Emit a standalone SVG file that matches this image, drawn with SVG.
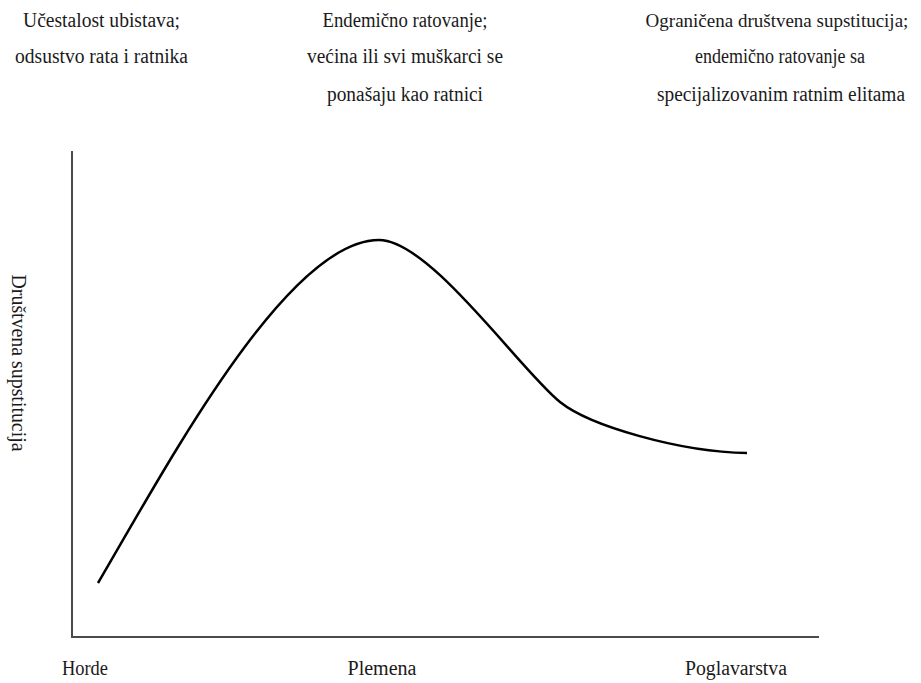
<svg xmlns="http://www.w3.org/2000/svg" width="921" height="683" viewBox="0 0 921 683">
  <style>
    .lbl { font-family: "Liberation Serif", "Times New Roman", serif; font-size: 20.5px; fill: #1a1a1a; text-anchor: middle; }
    .lbl.long { font-size: 19px; }
    .axis { stroke: #4a4a4a; stroke-width: 2; fill: none; }
    .curve { stroke: #000; stroke-width: 2.5; fill: none; stroke-linecap: butt; }
  </style>
  <rect width="921" height="683" fill="#fff"/>

  <!-- descriptions above the chart -->
  <g id="desc-horde">
    <text class="lbl" x="101.5" y="27" textLength="157" lengthAdjust="spacingAndGlyphs">Učestalost ubistava;</text>
    <text class="lbl" x="101.5" y="63" textLength="173" lengthAdjust="spacingAndGlyphs">odsustvo rata i ratnika</text>
  </g>
  <g id="desc-plemena">
    <text class="lbl" x="405" y="27" textLength="165" lengthAdjust="spacingAndGlyphs">Endemično ratovanje;</text>
    <text class="lbl" x="405" y="63" textLength="196" lengthAdjust="spacingAndGlyphs">većina ili svi muškarci se</text>
    <text class="lbl" x="405" y="101" textLength="156" lengthAdjust="spacingAndGlyphs">ponašaju kao ratnici</text>
  </g>
  <g id="desc-poglavarstva">
    <text class="lbl long" x="777" y="27">Ograničena društvena supstitucija;</text>
    <text class="lbl" x="780" y="63" textLength="170" lengthAdjust="spacingAndGlyphs">endemično ratovanje sa</text>
    <text class="lbl" x="781" y="101" textLength="248" lengthAdjust="spacingAndGlyphs">specijalizovanim ratnim elitama</text>
  </g>

  <!-- axes -->
  <g id="axes">
    <line class="axis" x1="72" y1="151" x2="72" y2="637"/>
    <line class="axis" x1="71" y1="637" x2="819" y2="637"/>
  </g>

  <!-- y-axis title -->
  <g id="y-title">
    <text class="lbl" transform="translate(12,363) rotate(90)" x="0" y="0" textLength="177" lengthAdjust="spacingAndGlyphs">Društvena supstitucija</text>
  </g>

  <!-- curve -->
  <g id="connectors">
    <path class="curve" d="M98,583 C170,460 288,240 379,240 C430,240 520,370 560,402 C590,426 680,452 747,453"/>
  </g>

  <!-- x-axis categories -->
  <g id="cat-horde"><text class="lbl" x="85" y="675" textLength="46" lengthAdjust="spacingAndGlyphs">Horde</text></g>
  <g id="cat-plemena"><text class="lbl" x="382" y="675" textLength="69" lengthAdjust="spacingAndGlyphs">Plemena</text></g>
  <g id="cat-poglavarstva"><text class="lbl" x="736" y="675" textLength="102" lengthAdjust="spacingAndGlyphs">Poglavarstva</text></g>
</svg>
